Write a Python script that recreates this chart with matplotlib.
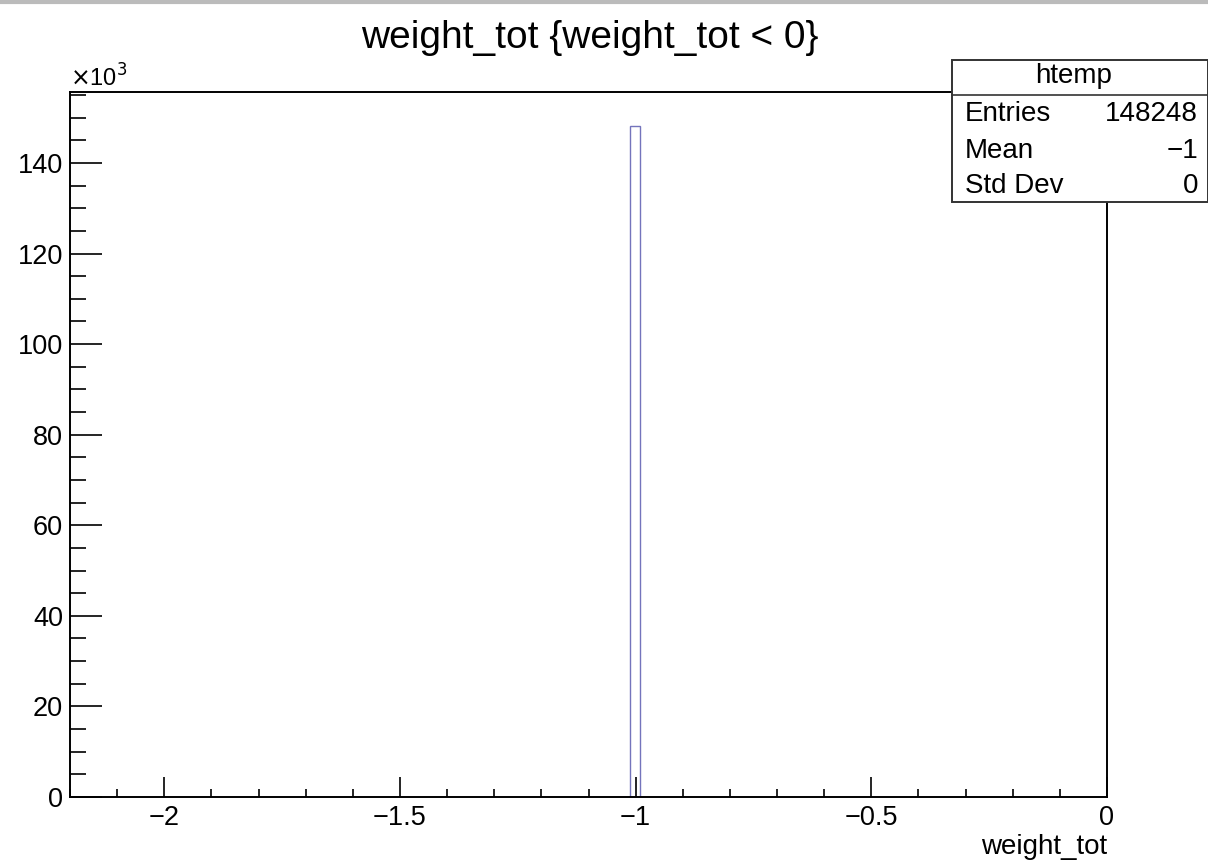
import matplotlib.pyplot as plt
from matplotlib.ticker import MultipleLocator, FuncFormatter
from matplotlib.patches import Rectangle
from matplotlib.lines import Line2D

plt.rcParams['font.family'] = ['Liberation Sans', 'DejaVu Sans']

# data
hist_name = "htemp"
var_name = "weight_tot"
values = [-1.0]
counts = [148248]
num_bins = 100
x_range = (-2.2, 0.0)
stat_labels = ["Entries", "Mean", "Std Dev"]
stat_values = ["148248", "\u22121", "0"]

fig = plt.figure(figsize=(12.08, 8.63), dpi=100)
ax = fig.add_axes([70 / 1208, 66 / 863, 1037 / 1208, 705 / 863])

ax.hist(values, bins=num_bins, range=x_range, weights=counts,
        histtype='step', color='#7474bc', linewidth=1.0)

ax.set_xlim(*x_range)
ax.set_ylim(0, max(counts) * 1.05)

ax.xaxis.set_major_locator(MultipleLocator(0.5))
ax.xaxis.set_minor_locator(MultipleLocator(0.1))
ax.yaxis.set_major_locator(MultipleLocator(20000))
ax.yaxis.set_minor_locator(MultipleLocator(5000))

def xfmt(v, pos):
    s = "%g" % v
    if s in ("-0", "0"):
        return "0"
    return s.replace("-", "\u2212")

ax.xaxis.set_major_formatter(FuncFormatter(xfmt))
ax.yaxis.set_major_formatter(FuncFormatter(lambda v, p: "%d" % round(v / 1000)))

ax.tick_params(axis='both', which='both', direction='in', top=False, right=False,
               labelsize=19.5, colors='black', width=1.2)
ax.tick_params(axis='x', which='major', length=14.5, pad=6)
ax.tick_params(axis='x', which='minor', length=6)
ax.tick_params(axis='y', which='major', length=23, pad=5)
ax.tick_params(axis='y', which='minor', length=11.5)

for sp in ax.spines.values():
    sp.set_linewidth(1.4)

ax.text(0.0, 1.0, r"$\times$10$^{3}$", transform=ax.transAxes, fontsize=17,
        ha='left', va='bottom')
ax.set_xlabel(var_name, fontsize=20, ha='right', x=1.0, labelpad=2)

fig.text(590 / 1208, 1 - 38 / 863, "weight_tot {weight_tot < 0}",
         fontsize=28, ha='center', va='center')

# stats box
bx0, bx1 = 952 / 1208, 1.0
by_top, by_bot = 1 - 60 / 863, 1 - 202 / 863
fig.patches.append(Rectangle((bx0, by_bot), bx1 - bx0, by_top - by_bot,
                             transform=fig.transFigure, facecolor='white',
                             edgecolor='#333333', linewidth=1.4, zorder=5))
fig.lines.append(Line2D([bx0, bx1], [1 - 95 / 863] * 2, transform=fig.transFigure,
                        color='#333333', linewidth=1.2, zorder=6))
fig.text((bx0 + bx1) / 2 - 0.005, 1 - 76 / 863, hist_name, fontsize=20,
         ha='center', va='center', zorder=7)
row_y = [114, 151, 186]
for lab, val, yy in zip(stat_labels, stat_values, row_y):
    fig.text(965 / 1208, 1 - yy / 863, lab, fontsize=20, ha='left', va='center', zorder=7)
    fig.text(1198 / 1208, 1 - yy / 863, val, fontsize=20, ha='right', va='center', zorder=7)

# top border of the window
fig.lines.append(Line2D([0, 1], [1 - 2 / 863] * 2, transform=fig.transFigure,
                        color='#bbbbbb', linewidth=3))

fig.savefig("out.png", dpi=100)
